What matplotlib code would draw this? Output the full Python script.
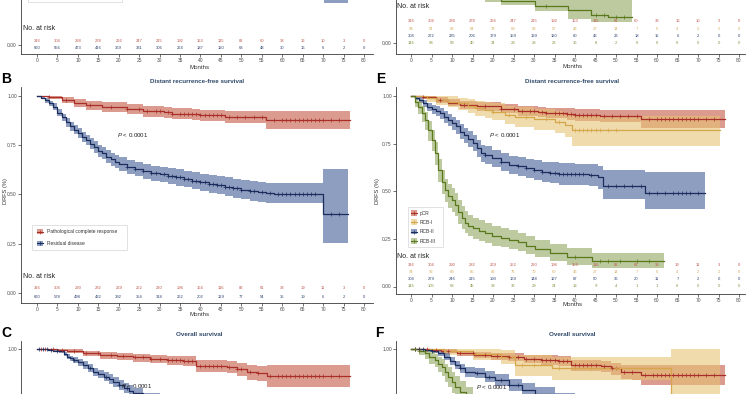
import numpy as np
import matplotlib
matplotlib.use("Agg")
import matplotlib.pyplot as plt
from matplotlib.patches import Rectangle

plt.rcParams['font.family'] = ['Liberation Sans', 'DejaVu Sans']
plt.rcParams['mathtext.fontset'] = 'custom'
plt.rcParams['mathtext.it'] = 'Liberation Sans:italic'
plt.rcParams['mathtext.rm'] = 'Liberation Sans'

# ------------------------------------------------------------------ data
month_ticks = list(range(0, 81, 5))
y_ticks = [0.0, 0.25, 0.5, 0.75, 1.0]
y_tick_labels = ["0.00", "0.25", "0.50", "0.75", "1.00"]

title_drfs = "Distant recurrence-free survival"
title_os = "Overall survival"
ylabel_drfs = "DRFS (%)"
xlabel = "Months"
legend_2grp = ["Pathological complete response", "Residual disease"]
legend_4grp = ["pCR", "RCB-I", "RCB-II", "RCB-III"]
p_text = r"$P$ < 0.0001"

# numbers at risk (months 0, 5, ..., 80)
risk_A_pcr = [316, 304, 288, 278, 266, 247, 215, 192, 153, 115, 81, 60, 38, 16, 10, 3, 0]
risk_A_rd = [660, 556, 473, 416, 369, 331, 306, 264, 187, 120, 68, 48, 30, 16, 6, 2, 0]
risk_B_pcr = [316, 304, 290, 282, 269, 252, 220, 196, 154, 116, 82, 61, 38, 19, 11, 3, 0]
risk_B_rd = [660, 578, 498, 432, 392, 354, 318, 262, 202, 129, 77, 54, 35, 19, 6, 2, 0]
risk_D_rcb1 = [94, 91, 88, 84, 78, 69, 63, 57, 43, 27, 14, 7, 6, 4, 2, 2, 0]
risk_D_rcb2 = [304, 272, 235, 206, 179, 159, 139, 120, 80, 46, 23, 18, 15, 6, 2, 0, 0]
risk_D_rcb3 = [146, 93, 59, 40, 34, 29, 28, 22, 16, 8, 2, 0, 0, 0, 0, 0, 0]
risk_E_rcb1 = [94, 92, 89, 86, 82, 75, 70, 60, 43, 27, 14, 7, 6, 4, 2, 2, 0]
risk_E_rcb2 = [304, 279, 246, 215, 190, 169, 148, 127, 87, 50, 36, 20, 11, 7, 2, 0, 0]
risk_E_rcb3 = [146, 105, 68, 45, 38, 32, 29, 24, 18, 9, 4, 1, 1, 0, 0, 0, 0]

# --- panel A (top, only its lower part is in view)
A_pcr_t = [0, 6, 12, 20, 30, 40, 48, 56, 76.5]
A_pcr_s = [1.0, 0.97, 0.94, 0.92, 0.9, 0.88, 0.86, 0.84, 0.84]
A_pcr_lo = [1.0, 0.95, 0.915, 0.89, 0.865, 0.845, 0.82, 0.79, 0.79]
A_pcr_hi = [1.0, 0.99, 0.965, 0.95, 0.93, 0.915, 0.9, 0.89, 0.89]
A_rd_t = [0, 3, 6, 9, 12, 15, 20, 25, 30, 40, 50, 60, 70.2, 76.1]
A_rd_s = [1.0, 0.94, 0.86, 0.79, 0.73, 0.68, 0.63, 0.6, 0.57, 0.53, 0.49, 0.47, 0.38, 0.38]
A_rd_lo = [1.0, 0.92, 0.83, 0.76, 0.7, 0.645, 0.595, 0.565, 0.535, 0.49, 0.45, 0.42, 0.215, 0.215]
A_rd_hi = [1.0, 0.96, 0.89, 0.82, 0.765, 0.715, 0.665, 0.635, 0.605, 0.57, 0.535, 0.52, 0.56, 0.56]

# --- DRFS, pCR (panels B and E)
drfs_pcr_t = [0, 3, 6, 9, 12, 16, 22, 26, 31, 33, 38, 40, 46, 56, 76.6]
drfs_pcr_s = [1.0, 0.995, 0.979, 0.965, 0.953, 0.945, 0.933, 0.922, 0.916, 0.91, 0.906, 0.901, 0.894, 0.877, 0.877]
drfs_pcr_lo = [1.0, 0.985, 0.962, 0.945, 0.93, 0.92, 0.91, 0.895, 0.888, 0.882, 0.876, 0.87, 0.862, 0.83, 0.83]
drfs_pcr_hi = [1.0, 1.0, 0.995, 0.985, 0.975, 0.968, 0.958, 0.95, 0.944, 0.938, 0.935, 0.93, 0.924, 0.925, 0.925]
drfs_pcr_cens = [3, 7, 13, 18, 22, 25, 27, 29, 30, 32, 33, 35, 36, 37, 38, 39, 40, 41, 42, 43, 44, 45, 47, 49,
                 51, 53, 55, 58, 60, 61, 62, 63, 64, 65, 66, 67, 68, 69, 70, 72, 74]

# --- DRFS, residual disease (panel B)
drfs_rd_t = [0, 1, 2, 3, 4, 5, 6, 7, 8, 9, 10, 11, 12, 13, 14, 15, 16, 17, 18, 19, 20,
             22, 24, 26, 28, 30, 32, 34, 36, 38, 40, 42, 44, 46, 48, 50, 52, 54, 56, 58, 70, 76.2]
drfs_rd_s = [1.0, 0.99, 0.978, 0.962, 0.945, 0.915, 0.89, 0.865, 0.845, 0.828, 0.81, 0.792, 0.776, 0.757,
             0.74, 0.722, 0.708, 0.692, 0.678, 0.665, 0.655, 0.64, 0.628, 0.617, 0.608, 0.601, 0.594, 0.586,
             0.578, 0.57, 0.561, 0.553, 0.547, 0.54, 0.531, 0.524, 0.517, 0.512, 0.507, 0.502, 0.40, 0.40]
drfs_rd_lo = [1.0, 0.982, 0.966, 0.948, 0.929, 0.897, 0.87, 0.843, 0.822, 0.804, 0.785, 0.766, 0.749, 0.729,
              0.711, 0.692, 0.677, 0.661, 0.646, 0.632, 0.621, 0.605, 0.592, 0.58, 0.57, 0.562, 0.554, 0.545,
              0.536, 0.527, 0.517, 0.508, 0.501, 0.493, 0.483, 0.475, 0.467, 0.462, 0.458, 0.458, 0.255, 0.255]
drfs_rd_hi = [1.0, 0.997, 0.99, 0.976, 0.961, 0.933, 0.91, 0.887, 0.868, 0.852, 0.835, 0.818, 0.803, 0.785,
              0.769, 0.752, 0.739, 0.723, 0.71, 0.698, 0.689, 0.675, 0.664, 0.654, 0.646, 0.64, 0.634, 0.627,
              0.62, 0.613, 0.605, 0.598, 0.593, 0.587, 0.579, 0.573, 0.567, 0.562, 0.557, 0.557, 0.627, 0.627]
drfs_rd_cens = [22, 24, 26, 28, 29, 31, 32, 33, 34, 35, 36, 37, 38, 39, 40, 41, 42, 43, 44, 45, 46, 47, 48,
                49, 50, 52, 53, 55, 57, 59, 60, 61, 62, 63, 64, 65, 66, 67, 68, 72, 74]

# --- DRFS by RCB class (panel E)
drfs_rcb1_t = [0, 4, 6, 9, 11.5, 14, 15.6, 18, 19.7, 23, 25.4, 30, 35, 37.6, 39.2, 75.4]
drfs_rcb1_s = [1.0, 0.99, 0.98, 0.97, 0.962, 0.948, 0.935, 0.926, 0.918, 0.902, 0.891, 0.878, 0.865, 0.848, 0.822, 0.822]
drfs_rcb1_lo = [1.0, 0.97, 0.955, 0.94, 0.925, 0.91, 0.893, 0.882, 0.872, 0.852, 0.838, 0.82, 0.805, 0.785, 0.739, 0.739]
drfs_rcb1_hi = [1.0, 1.0, 1.0, 1.0, 0.99, 0.985, 0.975, 0.97, 0.962, 0.95, 0.94, 0.93, 0.922, 0.91, 0.895, 0.895]
drfs_rcb1_cens = [20, 24, 28, 33, 36, 40, 41, 42, 43, 44, 45, 46, 48, 50]

drfs_rcb2_t = [0, 1, 2, 3, 4, 5, 6, 7, 8, 9, 10, 11, 12, 13, 14, 15, 16, 17, 18, 19.7,
               22, 24, 26, 28, 30, 32, 34, 36, 40, 43.3, 45.7, 46.9, 57.1, 71.7]
drfs_rcb2_s = [1.0, 0.99, 0.979, 0.962, 0.944, 0.93, 0.92, 0.909, 0.89, 0.873, 0.857, 0.84, 0.813, 0.795,
               0.775, 0.752, 0.725, 0.7, 0.69, 0.673, 0.655, 0.638, 0.63, 0.62, 0.612, 0.603, 0.597, 0.591,
               0.588, 0.585, 0.573, 0.528, 0.492, 0.492]
drfs_rcb2_lo = [1.0, 0.978, 0.962, 0.942, 0.921, 0.905, 0.893, 0.88, 0.859, 0.84, 0.822, 0.803, 0.775, 0.755,
                0.734, 0.709, 0.681, 0.655, 0.644, 0.626, 0.606, 0.588, 0.579, 0.568, 0.559, 0.549, 0.542,
                0.535, 0.531, 0.527, 0.513, 0.458, 0.405, 0.405]
drfs_rcb2_hi = [1.0, 1.0, 0.993, 0.98, 0.965, 0.954, 0.946, 0.937, 0.92, 0.905, 0.891, 0.876, 0.851, 0.834,
                0.815, 0.794, 0.768, 0.744, 0.735, 0.719, 0.703, 0.687, 0.68, 0.671, 0.664, 0.656, 0.651,
                0.646, 0.644, 0.642, 0.632, 0.612, 0.603, 0.603]
drfs_rcb2_cens = [18, 22, 26, 28, 30, 32, 34, 35, 36, 37, 38, 39, 40, 41, 42, 44, 48, 50, 52, 54, 56, 58, 60,
                  62, 64, 65, 66, 67, 68, 70]

drfs_rcb3_t = [0, 1, 1.8, 2.6, 3.4, 4.2, 5, 5.8, 6.7, 7.5, 8.3, 9.1, 9.9, 10.7, 11.5, 12.4, 13.2, 14, 15,
               16.5, 18, 19.7, 22, 23.8, 26.2, 28, 30.3, 34, 38, 44.1, 61.6]
drfs_rcb3_s = [1.0, 0.97, 0.944, 0.91, 0.874, 0.82, 0.77, 0.7, 0.61, 0.55, 0.505, 0.475, 0.455, 0.43, 0.39,
               0.36, 0.335, 0.318, 0.305, 0.292, 0.28, 0.265, 0.255, 0.245, 0.232, 0.215, 0.198, 0.175, 0.155,
               0.135, 0.135]
drfs_rcb3_lo = [1.0, 0.94, 0.905, 0.865, 0.823, 0.765, 0.712, 0.64, 0.548, 0.488, 0.443, 0.413, 0.393, 0.368,
                0.33, 0.302, 0.279, 0.263, 0.251, 0.239, 0.228, 0.214, 0.205, 0.196, 0.184, 0.169, 0.153,
                0.132, 0.115, 0.097, 0.097]
drfs_rcb3_hi = [1.0, 0.99, 0.975, 0.948, 0.918, 0.868, 0.822, 0.757, 0.67, 0.61, 0.566, 0.537, 0.517, 0.492,
                0.452, 0.42, 0.394, 0.375, 0.361, 0.347, 0.334, 0.318, 0.307, 0.296, 0.282, 0.263, 0.245,
                0.221, 0.2, 0.178, 0.178]
drfs_rcb3_cens = [40, 46, 48, 51, 55, 58]

# --- panel D (top, only RCB-III reaches into view)
D_rcb3_t = [0, 2, 4, 6, 8, 10, 12, 15, 18, 22, 30.2, 38.3, 44, 48, 54]
D_rcb3_s = [1.0, 0.92, 0.8, 0.65, 0.52, 0.44, 0.37, 0.31, 0.265, 0.222, 0.197, 0.175, 0.149, 0.138, 0.138]
D_rcb3_lo = [1.0, 0.87, 0.74, 0.58, 0.45, 0.37, 0.3, 0.225, 0.215, 0.2, 0.172, 0.125, 0.113, 0.113, 0.113]
D_rcb3_hi = [1.0, 0.96, 0.86, 0.72, 0.59, 0.51, 0.44, 0.38, 0.33, 0.3, 0.28, 0.26, 0.25, 0.25, 0.25]
D_rcb3_cens = [33, 45, 47, 50, 52]

# --- overall survival (panels C and F)
os_pcr_t = [0, 4.8, 7.3, 11.3, 15.4, 19.5, 23.6, 27.6, 31.7, 35.8, 39, 46.4, 48.9, 51.3, 53.8, 56.2, 76.6]
os_pcr_s = [1.0, 0.997, 0.992, 0.98, 0.971, 0.966, 0.96, 0.951, 0.946, 0.941, 0.917, 0.912, 0.9, 0.883, 0.879, 0.864, 0.864]
os_pcr_lo = [1.0, 0.99, 0.982, 0.965, 0.953, 0.946, 0.938, 0.928, 0.92, 0.913, 0.887, 0.88, 0.865, 0.845, 0.838, 0.81, 0.81]
os_pcr_hi = [1.0, 1.0, 1.0, 0.993, 0.987, 0.983, 0.978, 0.972, 0.968, 0.964, 0.945, 0.94, 0.93, 0.918, 0.915, 0.92, 0.92]
os_pcr_cens = [1, 2, 4, 6, 9, 12, 15, 18, 21, 24, 26, 28, 30, 32, 33, 34, 35, 36, 37, 38, 40, 41, 42, 43, 44,
               45, 47, 49, 50, 52, 54, 57, 59, 60, 61, 62, 63, 64, 65, 66, 67, 68, 69, 70, 72, 74]

os_rd_t = [0, 2.8, 4, 5.4, 6.5, 7.3, 8.1, 8.9, 10, 11.3, 12.5, 13.8, 15, 16.3, 17.5, 18.7, 20, 21.2, 22.4,
           23.6, 26, 30, 35, 40, 45, 50, 55, 60, 70, 76.2]
os_rd_s = [1.0, 0.997, 0.993, 0.989, 0.975, 0.963, 0.955, 0.946, 0.935, 0.921, 0.905, 0.887, 0.875, 0.862,
           0.85, 0.836, 0.82, 0.803, 0.79, 0.777, 0.75, 0.72, 0.68, 0.65, 0.62, 0.6, 0.58, 0.565, 0.55, 0.55]
os_rd_lo = [1.0, 0.99, 0.985, 0.98, 0.964, 0.95, 0.94, 0.93, 0.917, 0.902, 0.885, 0.866, 0.853, 0.839, 0.826,
            0.811, 0.794, 0.776, 0.762, 0.748, 0.72, 0.688, 0.646, 0.614, 0.582, 0.56, 0.537, 0.52, 0.5, 0.5]
os_rd_hi = [1.0, 1.0, 0.999, 0.996, 0.985, 0.975, 0.968, 0.96, 0.951, 0.939, 0.924, 0.907, 0.896, 0.884,
            0.873, 0.86, 0.845, 0.829, 0.817, 0.805, 0.779, 0.751, 0.713, 0.685, 0.657, 0.638, 0.62, 0.607,
            0.595, 0.595]
os_rd_cens = [0.5, 1.5, 2.5, 3.5, 5, 9, 13, 17, 20, 22, 27, 32, 38, 45, 52, 60, 68]

os_rcb1_t = [0, 8, 15, 22, 25.4, 34.3, 63.4, 75.4]
os_rcb1_s = [1.0, 0.99, 0.975, 0.96, 0.918, 0.9, 0.7, 0.7]
os_rcb1_lo = [1.0, 0.97, 0.945, 0.925, 0.862, 0.84, 0.42, 0.42]
os_rcb1_hi = [1.0, 1.0, 1.0, 0.995, 0.972, 0.962, 1.0, 1.0]
os_rcb1_cens = [27, 30, 36, 40, 44, 50]

os_rcb2_t = [0, 3.3, 5, 6.5, 8.1, 9.4, 10.7, 12, 13.2, 15.6, 18.1, 20.5, 23.8, 27, 30.2, 35, 40, 45, 50,
             55, 60, 71.7]
os_rcb2_s = [1.0, 0.996, 0.99, 0.979, 0.961, 0.94, 0.918, 0.9, 0.883, 0.874, 0.857, 0.839, 0.813, 0.786,
             0.765, 0.73, 0.7, 0.67, 0.645, 0.625, 0.61, 0.61]
os_rcb2_lo = [1.0, 0.988, 0.978, 0.964, 0.943, 0.92, 0.896, 0.876, 0.857, 0.847, 0.828, 0.808, 0.78, 0.751,
              0.728, 0.69, 0.658, 0.625, 0.597, 0.575, 0.555, 0.555]
os_rcb2_hi = [1.0, 1.0, 0.999, 0.992, 0.978, 0.96, 0.94, 0.924, 0.909, 0.901, 0.886, 0.87, 0.846, 0.821,
              0.802, 0.77, 0.742, 0.715, 0.693, 0.675, 0.665, 0.665]
os_rcb2_cens = [1, 2, 3, 5, 12, 16, 19, 22, 24, 26]

os_rcb3_t = [0, 2, 3.3, 4.5, 5.9, 6.7, 7.5, 8.3, 9.1, 9.9, 10.7, 11.9, 13.5, 15, 17.5, 20, 25, 30, 40, 50, 62]
os_rcb3_s = [1.0, 0.99, 0.979, 0.96, 0.944, 0.925, 0.909, 0.88, 0.857, 0.83, 0.804, 0.778, 0.74, 0.7, 0.65,
             0.6, 0.52, 0.45, 0.35, 0.3, 0.3]
os_rcb3_lo = [1.0, 0.97, 0.95, 0.925, 0.905, 0.882, 0.862, 0.83, 0.803, 0.773, 0.745, 0.716, 0.675, 0.632,
              0.58, 0.528, 0.447, 0.377, 0.278, 0.228, 0.228]
os_rcb3_hi = [1.0, 1.0, 0.995, 0.985, 0.975, 0.96, 0.948, 0.925, 0.905, 0.882, 0.86, 0.836, 0.8, 0.765,
              0.718, 0.672, 0.595, 0.525, 0.425, 0.375, 0.375]
os_rcb3_cens = [1, 2]

# ------------------------------------------------------------------ style
C_PCR = ('#A92E27', '#C2543F', '#C0564C')     # line, band, table text
C_RD = ('#1B2D5C', '#3D5894', '#2D4170')
C_RCB1 = ('#D6A64A', '#E6C273', '#D6AE5E')
C_RCB3 = ('#5A781C', '#8EA55A', '#7F9442')
BAND_ALPHA = 0.58
TITLE_COL = '#2E4868'
TEXT_COL = '#333333'

W, H = 753, 394
fig = plt.figure(figsize=(W / 100, H / 100), dpi=100)


def make_axes(x0, x1, m0, ppm, zero, scale, ylo, yhi, ytick_idx, xlabels=True):
    top = zero - yhi * scale
    bot = zero - ylo * scale
    ax = fig.add_axes([x0 / W, 1 - bot / H, (x1 - x0) / W, (bot - top) / H])
    ax.set_xlim((x0 - m0) / ppm, (x1 - m0) / ppm)
    ax.set_ylim(ylo, yhi)
    ax.set_xticks(month_ticks)
    ax.set_yticks([y_ticks[i] for i in ytick_idx])
    ax.set_yticklabels([y_tick_labels[i] for i in ytick_idx])
    for s in ('top', 'right'):
        ax.spines[s].set_visible(False)
    for s in ('left', 'bottom'):
        ax.spines[s].set_color('#3a3a3a')
        ax.spines[s].set_linewidth(0.6)
    ax.tick_params(length=2, width=0.5, pad=1.0, labelsize=3.5, color='#3a3a3a', labelcolor='#4d4d4d')
    if not xlabels:
        ax.tick_params(axis='x', labelbottom=False)
    ax.patch.set_alpha(0)
    ax.zero, ax.scale = zero, scale
    return ax


def km(ax, t, s, lo, hi, col, cens=()):
    assert len(t) == len(s) == len(lo) == len(hi)
    ax.fill_between(t, lo, hi, step='post', color=col[1], alpha=BAND_ALPHA, lw=0, zorder=1)
    ax.step(t, s, where='post', color=col[0], lw=0.9, zorder=3)
    if len(cens):
        ta, sa = np.asarray(t), np.asarray(s)
        ct = np.asarray(cens, dtype=float)
        idx = np.searchsorted(ta, ct, side='right') - 1
        ax.plot(ct, sa[idx], ls='none', marker='+', ms=2.4, mew=0.5, color=col[0], zorder=4)


def risk_table(ax, label_px, rows_px, rows, cols):
    ax.text(-3.4, (ax.zero - label_px) / ax.scale, "No. at risk", fontsize=5, color='#222222',
            ha='left', va='center', zorder=6)
    for ry, vals, c in zip(rows_px, rows, cols):
        assert len(vals) == len(month_ticks)
        for m, v in zip(month_ticks, vals):
            ax.text(m, (ax.zero - ry) / ax.scale, str(v), fontsize=3.0, color=c,
                    ha='center', va='center', zorder=6)


def p_value(ax, month, val):
    ax.text(month, val, p_text, fontsize=4.4, color='#222222', ha='center', va='center', zorder=5)


LEFT = (21, 373, 37, 4.0875)
RIGHT = (396, 745, 411, 4.1)

# ---- A
axA = make_axes(*LEFT, zero=45, scale=197.2, ylo=-0.047, yhi=1.045, ytick_idx=[0])
km(axA, A_pcr_t, A_pcr_s, A_pcr_lo, A_pcr_hi, C_PCR)
km(axA, A_rd_t, A_rd_s, A_rd_lo, A_rd_hi, C_RD)
risk_table(axA, 29, [41.3, 48], [risk_A_pcr, risk_A_rd], [C_PCR[2], C_RD[2]])

# ---- B
axB = make_axes(*LEFT, zero=293, scale=197.2, ylo=-0.05, yhi=1.045, ytick_idx=[0, 1, 2, 3, 4])
km(axB, drfs_pcr_t, drfs_pcr_s, drfs_pcr_lo, drfs_pcr_hi, C_PCR, drfs_pcr_cens)
km(axB, drfs_rd_t, drfs_rd_s, drfs_rd_lo, drfs_rd_hi, C_RD, drfs_rd_cens)
risk_table(axB, 276.7, [288.3, 297.3], [risk_B_pcr, risk_B_rd], [C_PCR[2], C_RD[2]])
p_value(axB, 23.5, 0.80)

# ---- C
axC = make_axes(*LEFT, zero=349.3 + 197.2, scale=197.2, ylo=-0.05, yhi=1.042, ytick_idx=[4], xlabels=False)
km(axC, os_pcr_t, os_pcr_s, os_pcr_lo, os_pcr_hi, C_PCR, os_pcr_cens)
km(axC, os_rd_t, os_rd_s, os_rd_lo, os_rd_hi, C_RD, os_rd_cens)
p_value(axC, 24.5, 0.814)

# ---- D
axD = make_axes(*RIGHT, zero=43.3, scale=190.5, ylo=-0.0577, yhi=1.045, ytick_idx=[0])
km(axD, D_rcb3_t, D_rcb3_s, D_rcb3_lo, D_rcb3_hi, C_RCB3, D_rcb3_cens)
risk_table(axD, 7, [21, 28.5, 36, 43.3], [risk_A_pcr, risk_D_rcb1, risk_D_rcb2, risk_D_rcb3],
           [C_PCR[2], C_RCB1[2], C_RD[2], C_RCB3[2]])

# ---- E
axE = make_axes(*RIGHT, zero=286.5, scale=190.5, ylo=-0.04, yhi=1.045, ytick_idx=[0, 1, 2, 3, 4])
km(axE, drfs_pcr_t, drfs_pcr_s, drfs_pcr_lo, drfs_pcr_hi, C_PCR, drfs_pcr_cens)
km(axE, drfs_rcb1_t, drfs_rcb1_s, drfs_rcb1_lo, drfs_rcb1_hi, C_RCB1, drfs_rcb1_cens)
km(axE, drfs_rcb2_t, drfs_rcb2_s, drfs_rcb2_lo, drfs_rcb2_hi, C_RD, drfs_rcb2_cens)
km(axE, drfs_rcb3_t, drfs_rcb3_s, drfs_rcb3_lo, drfs_rcb3_hi, C_RCB3, drfs_rcb3_cens)
risk_table(axE, 256, [265, 272.2, 279.3, 286.3], [risk_B_pcr, risk_E_rcb1, risk_E_rcb2, risk_E_rcb3],
           [C_PCR[2], C_RCB1[2], C_RD[2], C_RCB3[2]])
p_value(axE, 22.9, 0.796)

# ---- F
axF = make_axes(*RIGHT, zero=349.3 + 190.5, scale=190.5, ylo=-0.04, yhi=1.042, ytick_idx=[4], xlabels=False)
km(axF, os_pcr_t, os_pcr_s, os_pcr_lo, os_pcr_hi, C_PCR, os_pcr_cens)
km(axF, os_rcb1_t, os_rcb1_s, os_rcb1_lo, os_rcb1_hi, C_RCB1, os_rcb1_cens)
km(axF, os_rcb2_t, os_rcb2_s, os_rcb2_lo, os_rcb2_hi, C_RD, os_rcb2_cens)
km(axF, os_rcb3_t, os_rcb3_s, os_rcb3_lo, os_rcb3_hi, C_RCB3, os_rcb3_cens)
p_value(axF, 19.8, 0.803)

# ------------------------------------------------------------------ overlay texts (pixel coords)
ov = fig.add_axes([0, 0, 1, 1])
ov.set_xlim(0, W)
ov.set_ylim(H, 0)
ov.axis('off')
ov.patch.set_alpha(0)

for x, y in [(200, 67), (200, 315), (573, 66), (573, 305)]:
    ov.text(x, y, xlabel, fontsize=4.4, color=TEXT_COL, ha='center', va='center')

for x, y, lab in [(6, 79, 'B'), (381, 79, 'E'), (6, 333, 'C'), (379, 333, 'F')]:
    ov.text(x, y, lab, fontsize=10, fontweight='bold', color='black', ha='center', va='center')
for x, y, t in [(197, 81, title_drfs), (572, 81, title_drfs), (199, 335, title_os), (572, 335, title_os)]:
    ov.text(x, y, t, fontsize=4.5, fontweight='bold', color=TITLE_COL, ha='center', va='center')
for x in (5.5, 378):
    ov.text(x, 191, ylabel_drfs, fontsize=4.1, color=TEXT_COL, rotation=90, ha='center', va='center')


def legend_box(x0, y0, x1, y1, entries, sw_x, sw_w, txt_x):
    ov.add_patch(Rectangle((x0, y0), x1 - x0, y1 - y0, facecolor='white', edgecolor='#D5D5D5',
                           lw=0.5, zorder=5))
    for yy, label, col in entries:
        ov.add_patch(Rectangle((sw_x - sw_w / 2, yy - 2.6), sw_w, 5.2, facecolor=col[1], alpha=BAND_ALPHA,
                               edgecolor='none', zorder=6))
        ov.plot([sw_x - sw_w / 2, sw_x + sw_w / 2], [yy, yy], color=col[0], lw=0.8, zorder=7)
        ov.plot([sw_x], [yy], marker='+', ms=2.4, mew=0.5, color=col[0], zorder=7)
        ov.text(txt_x, yy, label, fontsize=3.5, va='center', ha='left', color=TEXT_COL, zorder=7)


# panel A legend: only the lower edge of its box is inside the picture
legend_box(28, -25, 122, 1.7, [], 36, 6.6, 43)
legend_box(32, 225, 127, 250, [(231.7, legend_2grp[0], C_PCR), (243.3, legend_2grp[1], C_RD)], 40, 6.6, 47)
legend_box(408, 206.7, 443, 247.3,
           [(213, legend_4grp[0], C_PCR), (222, legend_4grp[1], C_RCB1),
            (231.5, legend_4grp[2], C_RD), (241, legend_4grp[3], C_RCB3)], 414.3, 6.2, 420)

fig.savefig('out.png', dpi=100)
